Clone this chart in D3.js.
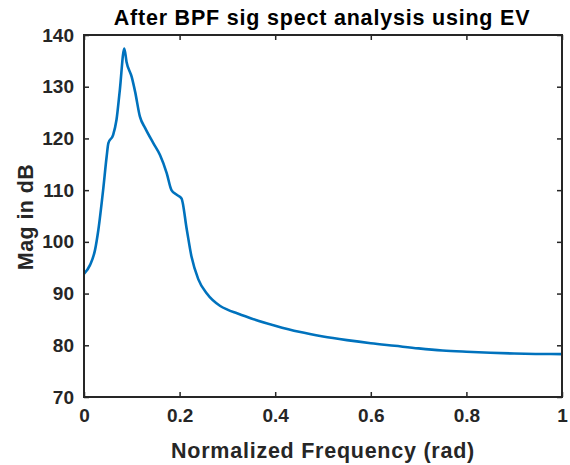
<!DOCTYPE html>
<html>
<head>
<meta charset="utf-8">
<script src="https://cdn.jsdelivr.net/npm/d3@7"></script>
<style>
  body { margin: 0; background: #fff; }
  svg { font-family: "Liberation Sans", Arial, sans-serif; font-weight: bold; }
</style>
</head>
<body>
<svg width="570" height="465"></svg>
<script>
// normalized frequency (rad) and magnitude (dB)
const freq = [0, 0.0125, 0.023, 0.030, 0.040, 0.0474, 0.051, 0.061, 0.068, 0.075, 0.0843,
  0.089, 0.0998, 0.107, 0.117, 0.128, 0.145, 0.159, 0.173, 0.183, 0.194, 0.204,
  0.215, 0.225, 0.239, 0.257, 0.285, 0.300, 0.320, 0.350, 0.400, 0.450, 0.500, 0.550,
  0.600, 0.650, 0.700, 0.750, 0.800, 0.850, 0.900, 0.950, 1];
const mag = [93.8, 95.5, 98.4, 102.3, 110.0, 116.5, 119.1, 120.7, 123.6, 129.4, 137.4,
  134.8, 131.9, 129.0, 124.2, 122.0, 119.1, 116.8, 113.3, 110.0, 109.1, 108.4,
  102.4, 97.1, 92.8, 90.0, 87.6, 86.9, 86.2, 85.2, 83.8, 82.6, 81.7, 81.0,
  80.4, 79.9, 79.4, 79.0, 78.75, 78.55, 78.4, 78.32, 78.3];
const xTicks = [0, 0.2, 0.4, 0.6, 0.8, 1];
const yTicks = [70, 80, 90, 100, 110, 120, 130, 140];

const data = freq.map((f, i) => ({f: f, m: mag[i]}));

const svg = d3.select('svg');
const margin = {top: 35, right: 8, bottom: 68, left: 84};
const innerWidth = 570 - margin.left - margin.right;
const innerHeight = 465 - margin.top - margin.bottom;
const ink = '#262626';

const xScale = d3.scaleLinear().domain([0, 1]).range([0, innerWidth]);
const yScale = d3.scaleLinear().domain([70, 140]).range([innerHeight, 0]);

const g = svg.append('g')
    .attr('transform', `translate(${margin.left},${margin.top})`);

// curve
g.append('path')
    .datum(data)
    .attr('fill', 'none')
    .attr('stroke', '#0072BD')
    .attr('stroke-width', 2.6)
    .attr('stroke-linejoin', 'round')
    .attr('d', d3.line()
        .x(d => xScale(d.f))
        .y(d => yScale(d.m))
        .curve(d3.curveMonotoneX));

// axes (ticks pointing inward)
const styleAxis = sel => {
    sel.select('.domain').remove();
    sel.selectAll('.tick line').attr('stroke', ink).attr('stroke-width', 1.5);
    sel.selectAll('.tick text').attr('fill', ink).style('font-size', '19px').style('font-weight', 'bold');
};
// mirror axes: ticks only, no labels
const ticksOnly = sel => {
    styleAxis(sel);
    sel.selectAll('.tick text').remove();
};

g.append('g')
    .attr('transform', `translate(0,${innerHeight})`)
    .call(d3.axisBottom(xScale).tickValues(xTicks).tickFormat(d3.format('')).tickSizeInner(-5).tickPadding(12))
    .call(styleAxis);
g.append('g')
    .call(d3.axisTop(xScale).tickValues(xTicks).tickSizeInner(-5))
    .call(ticksOnly);
g.append('g')
    .call(d3.axisLeft(yScale).tickValues(yTicks).tickSizeInner(-5).tickPadding(10))
    .call(styleAxis);
g.append('g')
    .attr('transform', `translate(${innerWidth},0)`)
    .call(d3.axisRight(yScale).tickValues(yTicks).tickSizeInner(-5))
    .call(ticksOnly);

// box
g.append('rect')
    .attr('width', innerWidth)
    .attr('height', innerHeight)
    .attr('fill', 'none')
    .attr('stroke', ink)
    .attr('stroke-width', 2);

// labels
svg.append('text')
    .attr('x', 322)
    .attr('y', 25)
    .attr('text-anchor', 'middle')
    .attr('fill', '#000')
    .style('font-size', '21.5px')
    .style('letter-spacing', '0.8px')
    .text('After BPF sig spect analysis using EV');

svg.append('text')
    .attr('x', 323)
    .attr('y', 458)
    .attr('text-anchor', 'middle')
    .attr('fill', ink)
    .style('font-size', '21.5px')
    .style('letter-spacing', '0.75px')
    .text('Normalized Frequency (rad)');

svg.append('text')
    .attr('transform', `translate(33,217) rotate(-90)`)
    .attr('text-anchor', 'middle')
    .attr('fill', ink)
    .style('font-size', '21.5px')
    .style('letter-spacing', '0.4px')
    .text('Mag in dB');
</script>
</body>
</html>
